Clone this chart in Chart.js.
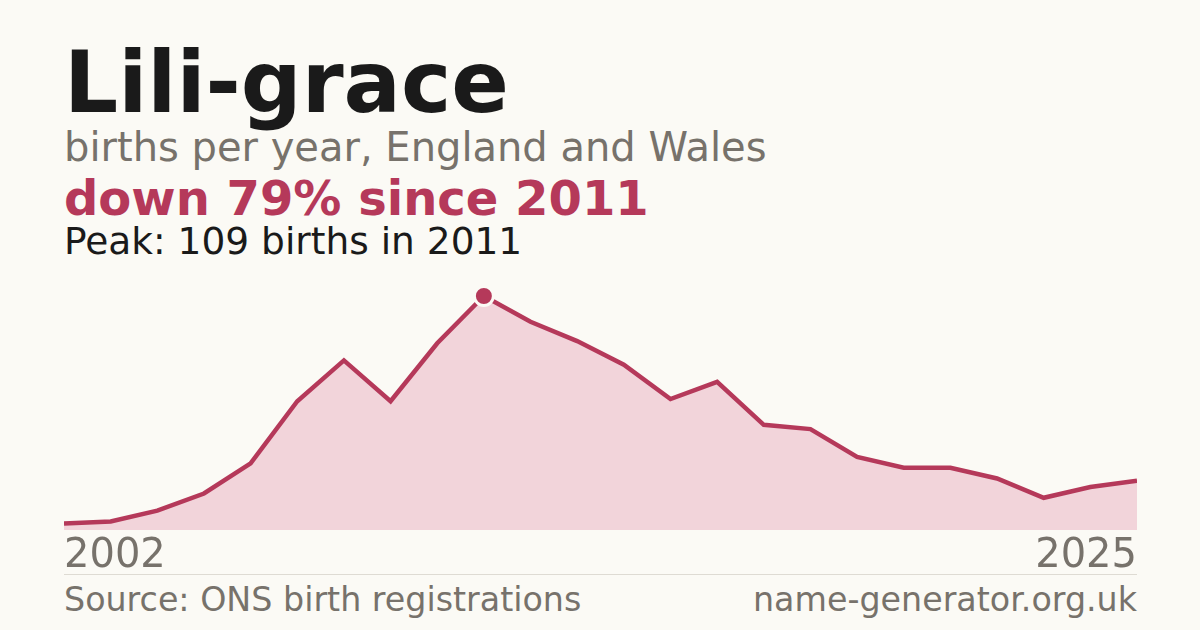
<!DOCTYPE html>
<html>
<head>
<meta charset="utf-8">
<title>Lili-grace births per year</title>
<script src="https://cdn.jsdelivr.net/npm/chart.js@4.4.1/dist/chart.umd.min.js"></script>
<style>
    html, body {
        margin: 0;
        padding: 0;
        width: 1200px;
        height: 630px;
        overflow: hidden;
        background: #fbfaf5;
        font-family: "DejaVu Sans", sans-serif;
    }
    .text {
        position: absolute;
        left: 64px;
        line-height: 1;
        white-space: nowrap;
    }
    #title { top: 40px; font-size: 85px; font-weight: bold; color: #1a1a1a; }
    #subtitle { top: 127px; font-size: 40px; color: #77726b; }
    #change { top: 174px; font-size: 48px; font-weight: bold; color: #b5395a; }
    #peak { top: 223px; font-size: 37.5px; color: #1a1a1a; }
    #chart-wrap {
        position: absolute;
        left: 64px;
        top: 280px;
        width: 1073px;
        height: 300px;
    }
    #divider {
        position: absolute;
        left: 64px;
        top: 574px;
        width: 1073px;
        height: 1px;
        background: #dedbd3;
    }
    .foot { top: 583px; font-size: 33.3px; color: #77726b; }
    #site { left: auto; right: 63px; }
</style>
</head>
<body>
<div class="text" id="title">Lili-grace</div>
<div class="text" id="subtitle">births per year, England and Wales</div>
<div class="text" id="change"></div>
<div class="text" id="peak"></div>
<div id="chart-wrap"><canvas id="birthsChart"></canvas></div>
<div id="divider"></div>
<div class="text foot" id="source">Source: ONS birth registrations</div>
<div class="text foot" id="site">name-generator.org.uk</div>

<script>
// Years on the x axis (2002 - 2025)
const years = ['2002', '2003', '2004', '2005', '2006', '2007', '2008', '2009', '2010', '2011', '2012', '2013',
               '2014', '2015', '2016', '2017', '2018', '2019', '2020', '2021', '2022', '2023', '2024', '2025'];

// Births per year
const births = [3, 4, 9, 17, 31, 60, 79, 60, 87, 109, 97, 88,
                77, 61, 69, 49, 47, 34, 29, 29, 24, 15, 20, 23];

// Only the first and last year are labelled
const tickLabels = ['2002', '2025'];

document.addEventListener('DOMContentLoaded', function() {
    // Headline numbers
    const peakValue = Math.max(...births);
    const peakIndex = births.indexOf(peakValue);
    const lastValue = births[births.length - 1];
    const drop = Math.round((peakValue - lastValue) / peakValue * 100);

    document.getElementById('change').textContent = `down ${drop}% since ${years[peakIndex]}`;
    document.getElementById('peak').textContent = `Peak: ${peakValue} births in ${years[peakIndex]}`;

    initializeBirthsChart(peakIndex, peakValue);
});

function initializeBirthsChart(peakIndex, peakValue) {
    const ctx = document.getElementById('birthsChart');

    // Marker only on the peak year
    const radii = births.map((v, i) => i === peakIndex ? 9.5 : 0);

    new Chart(ctx, {
        type: 'line',
        data: {
            labels: years,
            datasets: [{
                data: births,
                borderColor: '#b5395a',
                borderWidth: 4.5,
                borderJoinStyle: 'miter',
                backgroundColor: '#f2d4da',
                fill: 'origin',
                tension: 0,
                pointRadius: radii,
                pointHoverRadius: radii,
                pointBackgroundColor: '#b5395a',
                pointBorderColor: '#fbfaf5',
                pointBorderWidth: 3,
                clip: false
            }]
        },
        options: {
            responsive: true,
            maintainAspectRatio: false,
            animation: false,
            layout: {
                padding: { top: 16, left: 0, right: 0, bottom: 0 }
            },
            plugins: {
                legend: { display: false },
                tooltip: { enabled: false }
            },
            scales: {
                x: {
                    grid: { display: false },
                    border: { display: false },
                    afterFit: function(scale) {
                        scale.height = 50;
                    },
                    ticks: {
                        autoSkip: false,
                        maxRotation: 0,
                        align: 'inner',
                        padding: -5,
                        color: '#77726b',
                        font: { family: 'DejaVu Sans', size: 40 },
                        callback: function(value, index) {
                            const label = years[index];
                            return tickLabels.includes(label) ? label : '';
                        }
                    }
                },
                y: {
                    display: false,
                    min: 0,
                    max: peakValue
                }
            }
        }
    });
}
</script>
</body>
</html>
